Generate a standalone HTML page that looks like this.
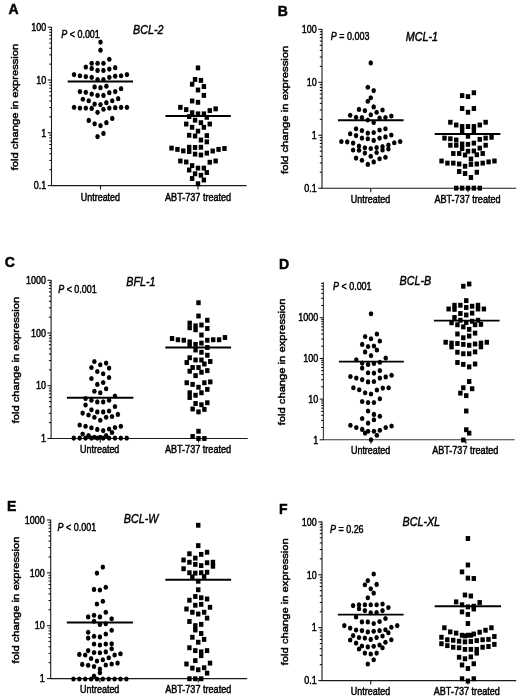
<!DOCTYPE html>
<html lang="en"><head><meta charset="utf-8"><title>Figure: fold change in expression</title>
<style>html,body{margin:0;padding:0;background:#fff}svg{display:block}text{font-family:"Liberation Sans", Arial, sans-serif;fill:#000;stroke:#000;stroke-width:0.45px}</style></head><body>
<svg width="520" height="700" viewBox="0 0 520 700">
<rect width="520" height="700" fill="#fff"/>
<g id="panel-A">
<path d="M51.5 26.9V185.6H246.6" fill="none" stroke="#1a1a1a" stroke-width="1.1"/>
<path d="M51.5 27.2h-3.7M51.5 64.11h-2.2M51.5 54.81h-2.2M51.5 48.21h-2.2M51.5 43.09h-2.2M51.5 38.91h-2.2M51.5 35.38h-2.2M51.5 32.32h-2.2M51.5 29.62h-2.2M51.5 80h-3.7M51.5 116.91h-2.2M51.5 107.61h-2.2M51.5 101.01h-2.2M51.5 95.89h-2.2M51.5 91.71h-2.2M51.5 88.18h-2.2M51.5 85.12h-2.2M51.5 82.42h-2.2M51.5 132.8h-3.7M51.5 169.71h-2.2M51.5 160.41h-2.2M51.5 153.81h-2.2M51.5 148.69h-2.2M51.5 144.51h-2.2M51.5 140.98h-2.2M51.5 137.92h-2.2M51.5 135.22h-2.2M51.5 185.6h-3.7" stroke="#000" stroke-width="1" fill="none"/>
<path d="M100.5 185.6v4M198 185.6v4" stroke="#1a1a1a" stroke-width="1.1" fill="none"/>
<text x="31.37" y="30.9" font-size="10.0" textLength="14.93" lengthAdjust="spacingAndGlyphs">100</text>
<text x="36.34" y="83.7" font-size="10.0" textLength="9.96" lengthAdjust="spacingAndGlyphs">10</text>
<text x="41.32" y="136.5" font-size="10.0" textLength="4.98" lengthAdjust="spacingAndGlyphs">1</text>
<text x="33.86" y="189.3" font-size="10.0" textLength="12.44" lengthAdjust="spacingAndGlyphs">0.1</text>
<text x="80.75" y="200.65" font-size="10.0" textLength="39.31" lengthAdjust="spacingAndGlyphs">Untreated</text>
<text x="165.04" y="200.65" font-size="10.0" textLength="66.13" lengthAdjust="spacingAndGlyphs">ABT-737 treated</text>
<text transform="translate(17.5 170.3) rotate(-90)" font-size="8.8" stroke-width="0.5" textLength="126.5" lengthAdjust="spacingAndGlyphs">fold change in expression</text>
<text x="8.6" y="14.1" font-size="14" font-weight="bold" stroke="#000" stroke-width="0.3">A</text>
<text x="133.1" y="33.75" font-size="12.2" font-style="italic" textLength="30.43" lengthAdjust="spacingAndGlyphs">BCL-2</text>
<text x="61.25" y="37.7" font-size="10.0" textLength="38.57" lengthAdjust="spacingAndGlyphs"><tspan font-style="italic">P</tspan> &lt; 0.001</text>
<g fill="#000"><ellipse cx="100.5" cy="42.12" rx="2.25" ry="2.6"/><ellipse cx="100.5" cy="50.19" rx="2.25" ry="2.6"/><ellipse cx="109.32" cy="59.23" rx="2.25" ry="2.6"/><ellipse cx="91.68" cy="63.27" rx="2.25" ry="2.6"/><ellipse cx="97.56" cy="63.27" rx="2.25" ry="2.6"/><ellipse cx="103.44" cy="63.27" rx="2.25" ry="2.6"/><ellipse cx="85.8" cy="67.12" rx="2.25" ry="2.6"/><ellipse cx="115.2" cy="67.69" rx="2.25" ry="2.6"/><ellipse cx="91.68" cy="68.46" rx="2.25" ry="2.6"/><ellipse cx="109.32" cy="69.04" rx="2.25" ry="2.6"/><ellipse cx="97.56" cy="70.38" rx="2.25" ry="2.6"/><ellipse cx="103.44" cy="70.38" rx="2.25" ry="2.6"/><ellipse cx="74.04" cy="74.62" rx="2.25" ry="2.6"/><ellipse cx="126.96" cy="74.62" rx="2.25" ry="2.6"/><ellipse cx="79.92" cy="75.77" rx="2.25" ry="2.6"/><ellipse cx="121.08" cy="75.77" rx="2.25" ry="2.6"/><ellipse cx="85.8" cy="76.54" rx="2.25" ry="2.6"/><ellipse cx="115.2" cy="76.15" rx="2.25" ry="2.6"/><ellipse cx="91.68" cy="77.31" rx="2.25" ry="2.6"/><ellipse cx="109.32" cy="77.31" rx="2.25" ry="2.6"/><ellipse cx="97.56" cy="79.62" rx="2.25" ry="2.6"/><ellipse cx="103.44" cy="79.62" rx="2.25" ry="2.6"/><ellipse cx="94.62" cy="86.92" rx="2.25" ry="2.6"/><ellipse cx="100.5" cy="87.69" rx="2.25" ry="2.6"/><ellipse cx="106.38" cy="86.15" rx="2.25" ry="2.6"/><ellipse cx="79.92" cy="91.54" rx="2.25" ry="2.6"/><ellipse cx="85.8" cy="92.31" rx="2.25" ry="2.6"/><ellipse cx="91.68" cy="94.04" rx="2.25" ry="2.6"/><ellipse cx="97.56" cy="95.38" rx="2.25" ry="2.6"/><ellipse cx="103.44" cy="95.38" rx="2.25" ry="2.6"/><ellipse cx="109.32" cy="92.69" rx="2.25" ry="2.6"/><ellipse cx="115.2" cy="91.54" rx="2.25" ry="2.6"/><ellipse cx="121.08" cy="88.65" rx="2.25" ry="2.6"/><ellipse cx="82.86" cy="99.23" rx="2.25" ry="2.6"/><ellipse cx="88.74" cy="100.77" rx="2.25" ry="2.6"/><ellipse cx="94.62" cy="104.04" rx="2.25" ry="2.6"/><ellipse cx="100.5" cy="104.62" rx="2.25" ry="2.6"/><ellipse cx="106.38" cy="102.69" rx="2.25" ry="2.6"/><ellipse cx="112.26" cy="100.77" rx="2.25" ry="2.6"/><ellipse cx="118.14" cy="98.65" rx="2.25" ry="2.6"/><ellipse cx="74.04" cy="107.31" rx="2.25" ry="2.6"/><ellipse cx="79.92" cy="108.08" rx="2.25" ry="2.6"/><ellipse cx="85.8" cy="108.08" rx="2.25" ry="2.6"/><ellipse cx="91.68" cy="108.46" rx="2.25" ry="2.6"/><ellipse cx="97.56" cy="112.31" rx="2.25" ry="2.6"/><ellipse cx="103.44" cy="109.23" rx="2.25" ry="2.6"/><ellipse cx="109.32" cy="108.08" rx="2.25" ry="2.6"/><ellipse cx="115.2" cy="107.69" rx="2.25" ry="2.6"/><ellipse cx="121.08" cy="107.31" rx="2.25" ry="2.6"/><ellipse cx="126.96" cy="107.31" rx="2.25" ry="2.6"/><ellipse cx="88.74" cy="120.38" rx="2.25" ry="2.6"/><ellipse cx="94.62" cy="123.85" rx="2.25" ry="2.6"/><ellipse cx="100.5" cy="125.58" rx="2.25" ry="2.6"/><ellipse cx="106.38" cy="122.69" rx="2.25" ry="2.6"/><ellipse cx="112.26" cy="118.46" rx="2.25" ry="2.6"/><ellipse cx="97.56" cy="136.54" rx="2.25" ry="2.6"/><ellipse cx="103.44" cy="133.46" rx="2.25" ry="2.6"/></g>
<path d="M67.7 81.5H133" stroke="#000" stroke-width="1.8" fill="none"/>
<g fill="#000"><rect x="195.8" y="65.43" width="4.4" height="4.9"/><rect x="192.86" y="76.97" width="4.4" height="4.9"/><rect x="198.74" y="77.93" width="4.4" height="4.9"/><rect x="189.92" y="81.78" width="4.4" height="4.9"/><rect x="201.68" y="84.09" width="4.4" height="4.9"/><rect x="195.8" y="87.55" width="4.4" height="4.9"/><rect x="201.68" y="92.93" width="4.4" height="4.9"/><rect x="189.92" y="98.51" width="4.4" height="4.9"/><rect x="195.8" y="99.86" width="4.4" height="4.9"/><rect x="178.16" y="104.86" width="4.4" height="4.9"/><rect x="184.04" y="107.17" width="4.4" height="4.9"/><rect x="207.56" y="108.13" width="4.4" height="4.9"/><rect x="213.44" y="106.4" width="4.4" height="4.9"/><rect x="189.92" y="110.24" width="4.4" height="4.9"/><rect x="195.8" y="111.4" width="4.4" height="4.9"/><rect x="201.68" y="111.4" width="4.4" height="4.9"/><rect x="186.98" y="114.09" width="4.4" height="4.9"/><rect x="204.62" y="114.86" width="4.4" height="4.9"/><rect x="192.86" y="117.74" width="4.4" height="4.9"/><rect x="198.74" y="120.24" width="4.4" height="4.9"/><rect x="184.04" y="121.59" width="4.4" height="4.9"/><rect x="207.56" y="121.59" width="4.4" height="4.9"/><rect x="189.92" y="124.86" width="4.4" height="4.9"/><rect x="201.68" y="124.86" width="4.4" height="4.9"/><rect x="195.8" y="128.7" width="4.4" height="4.9"/><rect x="186.98" y="132.8" width="4.4" height="4.9"/><rect x="192.86" y="133.55" width="4.4" height="4.9"/><rect x="204.62" y="133.17" width="4.4" height="4.9"/><rect x="198.74" y="137.55" width="4.4" height="4.9"/><rect x="204.62" y="139.43" width="4.4" height="4.9"/><rect x="169.34" y="145.67" width="4.4" height="4.9"/><rect x="175.22" y="146.93" width="4.4" height="4.9"/><rect x="181.1" y="148.43" width="4.4" height="4.9"/><rect x="186.98" y="144.8" width="4.4" height="4.9"/><rect x="186.98" y="149.05" width="4.4" height="4.9"/><rect x="192.86" y="145.05" width="4.4" height="4.9"/><rect x="198.74" y="144.8" width="4.4" height="4.9"/><rect x="192.86" y="151.67" width="4.4" height="4.9"/><rect x="198.74" y="152.55" width="4.4" height="4.9"/><rect x="204.62" y="150.67" width="4.4" height="4.9"/><rect x="210.5" y="148.55" width="4.4" height="4.9"/><rect x="216.38" y="146.93" width="4.4" height="4.9"/><rect x="222.26" y="146.05" width="4.4" height="4.9"/><rect x="178.16" y="158.55" width="4.4" height="4.9"/><rect x="184.04" y="159.55" width="4.4" height="4.9"/><rect x="207.56" y="159.8" width="4.4" height="4.9"/><rect x="213.44" y="158.55" width="4.4" height="4.9"/><rect x="189.92" y="163.17" width="4.4" height="4.9"/><rect x="195.8" y="165.67" width="4.4" height="4.9"/><rect x="201.68" y="165.67" width="4.4" height="4.9"/><rect x="186.98" y="167.55" width="4.4" height="4.9"/><rect x="204.62" y="170.05" width="4.4" height="4.9"/><rect x="192.86" y="171.3" width="4.4" height="4.9"/><rect x="198.74" y="172.8" width="4.4" height="4.9"/><rect x="189.92" y="176.05" width="4.4" height="4.9"/><rect x="201.68" y="177.55" width="4.4" height="4.9"/><rect x="195.8" y="181.3" width="4.4" height="4.9"/></g>
<path d="M165.4 116H230.8" stroke="#000" stroke-width="1.8" fill="none"/>
</g>
<g id="panel-B">
<path d="M322 29V188.2H516.2" fill="none" stroke="#1a1a1a" stroke-width="1.1"/>
<path d="M322 29.3h-3.7M322 66.32h-2.2M322 57h-2.2M322 50.38h-2.2M322 45.24h-2.2M322 41.05h-2.2M322 37.5h-2.2M322 34.43h-2.2M322 31.72h-2.2M322 82.27h-3.7M322 119.29h-2.2M322 109.96h-2.2M322 103.34h-2.2M322 98.21h-2.2M322 94.02h-2.2M322 90.47h-2.2M322 87.4h-2.2M322 84.69h-2.2M322 135.23h-3.7M322 172.26h-2.2M322 162.93h-2.2M322 156.31h-2.2M322 151.18h-2.2M322 146.98h-2.2M322 143.44h-2.2M322 140.37h-2.2M322 137.66h-2.2M322 188.2h-3.7" stroke="#000" stroke-width="1" fill="none"/>
<path d="M370.75 188.2v4M468 188.2v4" stroke="#1a1a1a" stroke-width="1.1" fill="none"/>
<text x="301.87" y="33" font-size="10.0" textLength="14.93" lengthAdjust="spacingAndGlyphs">100</text>
<text x="306.84" y="85.97" font-size="10.0" textLength="9.96" lengthAdjust="spacingAndGlyphs">10</text>
<text x="311.82" y="138.93" font-size="10.0" textLength="4.98" lengthAdjust="spacingAndGlyphs">1</text>
<text x="304.36" y="191.9" font-size="10.0" textLength="12.44" lengthAdjust="spacingAndGlyphs">0.1</text>
<text x="350.85" y="202.5" font-size="10.0" textLength="39.31" lengthAdjust="spacingAndGlyphs">Untreated</text>
<text x="434.44" y="202.5" font-size="10.0" textLength="66.13" lengthAdjust="spacingAndGlyphs">ABT-737 treated</text>
<text transform="translate(287.6 174) rotate(-90)" font-size="8.8" stroke-width="0.5" textLength="128.4" lengthAdjust="spacingAndGlyphs">fold change in expression</text>
<text x="277.8" y="15.6" font-size="14" font-weight="bold" stroke="#000" stroke-width="0.3">B</text>
<text x="405.8" y="40.7" font-size="12.2" font-style="italic" textLength="32.21" lengthAdjust="spacingAndGlyphs">MCL-1</text>
<text x="330.8" y="39.8" font-size="10.0" textLength="38.57" lengthAdjust="spacingAndGlyphs"><tspan font-style="italic">P</tspan> = 0.003</text>
<g fill="#000"><ellipse cx="370.75" cy="62.88" rx="2.25" ry="2.6"/><ellipse cx="367.81" cy="87.25" rx="2.25" ry="2.6"/><ellipse cx="373.69" cy="90.62" rx="2.25" ry="2.6"/><ellipse cx="370.75" cy="97.75" rx="2.25" ry="2.6"/><ellipse cx="367.81" cy="101.25" rx="2.25" ry="2.6"/><ellipse cx="373.69" cy="106.88" rx="2.25" ry="2.6"/><ellipse cx="358.99" cy="109.38" rx="2.25" ry="2.6"/><ellipse cx="364.87" cy="110.62" rx="2.25" ry="2.6"/><ellipse cx="382.51" cy="110" rx="2.25" ry="2.6"/><ellipse cx="376.63" cy="112.25" rx="2.25" ry="2.6"/><ellipse cx="370.75" cy="114.75" rx="2.25" ry="2.6"/><ellipse cx="350.17" cy="115.25" rx="2.25" ry="2.6"/><ellipse cx="356.05" cy="117.25" rx="2.25" ry="2.6"/><ellipse cx="361.93" cy="117.5" rx="2.25" ry="2.6"/><ellipse cx="367.81" cy="120" rx="2.25" ry="2.6"/><ellipse cx="373.69" cy="122.5" rx="2.25" ry="2.6"/><ellipse cx="379.57" cy="118.12" rx="2.25" ry="2.6"/><ellipse cx="385.45" cy="117.5" rx="2.25" ry="2.6"/><ellipse cx="391.33" cy="116" rx="2.25" ry="2.6"/><ellipse cx="356.05" cy="128.75" rx="2.25" ry="2.6"/><ellipse cx="361.93" cy="130.62" rx="2.25" ry="2.6"/><ellipse cx="367.81" cy="133.12" rx="2.25" ry="2.6"/><ellipse cx="373.69" cy="132.5" rx="2.25" ry="2.6"/><ellipse cx="379.57" cy="130" rx="2.25" ry="2.6"/><ellipse cx="385.45" cy="128.75" rx="2.25" ry="2.6"/><ellipse cx="350.17" cy="133.75" rx="2.25" ry="2.6"/><ellipse cx="356.05" cy="135.62" rx="2.25" ry="2.6"/><ellipse cx="361.93" cy="138.12" rx="2.25" ry="2.6"/><ellipse cx="367.81" cy="138.75" rx="2.25" ry="2.6"/><ellipse cx="373.69" cy="140.38" rx="2.25" ry="2.6"/><ellipse cx="379.57" cy="138.12" rx="2.25" ry="2.6"/><ellipse cx="385.45" cy="136.88" rx="2.25" ry="2.6"/><ellipse cx="391.33" cy="135" rx="2.25" ry="2.6"/><ellipse cx="341.35" cy="141.5" rx="2.25" ry="2.6"/><ellipse cx="347.23" cy="141.88" rx="2.25" ry="2.6"/><ellipse cx="353.11" cy="143.12" rx="2.25" ry="2.6"/><ellipse cx="358.99" cy="146" rx="2.25" ry="2.6"/><ellipse cx="364.87" cy="147.75" rx="2.25" ry="2.6"/><ellipse cx="370.75" cy="148.5" rx="2.25" ry="2.6"/><ellipse cx="376.63" cy="147.5" rx="2.25" ry="2.6"/><ellipse cx="382.51" cy="146.5" rx="2.25" ry="2.6"/><ellipse cx="388.39" cy="145" rx="2.25" ry="2.6"/><ellipse cx="394.27" cy="142.75" rx="2.25" ry="2.6"/><ellipse cx="400.15" cy="141.5" rx="2.25" ry="2.6"/><ellipse cx="353.11" cy="150" rx="2.25" ry="2.6"/><ellipse cx="358.99" cy="150.25" rx="2.25" ry="2.6"/><ellipse cx="364.87" cy="153.12" rx="2.25" ry="2.6"/><ellipse cx="376.63" cy="152.5" rx="2.25" ry="2.6"/><ellipse cx="382.51" cy="150" rx="2.25" ry="2.6"/><ellipse cx="388.39" cy="149" rx="2.25" ry="2.6"/><ellipse cx="370.75" cy="156.25" rx="2.25" ry="2.6"/><ellipse cx="356.05" cy="158.12" rx="2.25" ry="2.6"/><ellipse cx="361.93" cy="160.25" rx="2.25" ry="2.6"/><ellipse cx="367.81" cy="164.38" rx="2.25" ry="2.6"/><ellipse cx="373.69" cy="161.88" rx="2.25" ry="2.6"/><ellipse cx="379.57" cy="158.75" rx="2.25" ry="2.6"/><ellipse cx="385.45" cy="157.25" rx="2.25" ry="2.6"/></g>
<path d="M338 120.25H403.6" stroke="#000" stroke-width="1.8" fill="none"/>
<g fill="#000"><rect x="459.92" y="93.17" width="4.4" height="4.9"/><rect x="465.8" y="94.17" width="4.4" height="4.9"/><rect x="471.68" y="90.3" width="4.4" height="4.9"/><rect x="459.92" y="106.05" width="4.4" height="4.9"/><rect x="465.8" y="109.8" width="4.4" height="4.9"/><rect x="471.68" y="106.05" width="4.4" height="4.9"/><rect x="448.16" y="119.8" width="4.4" height="4.9"/><rect x="454.04" y="122.55" width="4.4" height="4.9"/><rect x="459.92" y="124.05" width="4.4" height="4.9"/><rect x="459.92" y="128.17" width="4.4" height="4.9"/><rect x="465.8" y="124.05" width="4.4" height="4.9"/><rect x="471.68" y="124.05" width="4.4" height="4.9"/><rect x="471.68" y="128.17" width="4.4" height="4.9"/><rect x="477.56" y="122.55" width="4.4" height="4.9"/><rect x="483.44" y="119.8" width="4.4" height="4.9"/><rect x="465.8" y="133.8" width="4.4" height="4.9"/><rect x="442.28" y="135.67" width="4.4" height="4.9"/><rect x="448.16" y="136.3" width="4.4" height="4.9"/><rect x="454.04" y="137.55" width="4.4" height="4.9"/><rect x="477.56" y="136.93" width="4.4" height="4.9"/><rect x="483.44" y="135.67" width="4.4" height="4.9"/><rect x="489.32" y="134.8" width="4.4" height="4.9"/><rect x="448.16" y="142.8" width="4.4" height="4.9"/><rect x="454.04" y="142.8" width="4.4" height="4.9"/><rect x="459.92" y="141.55" width="4.4" height="4.9"/><rect x="459.92" y="146.05" width="4.4" height="4.9"/><rect x="465.8" y="141.93" width="4.4" height="4.9"/><rect x="471.68" y="140.67" width="4.4" height="4.9"/><rect x="477.56" y="145.67" width="4.4" height="4.9"/><rect x="483.44" y="142.8" width="4.4" height="4.9"/><rect x="451.1" y="151.05" width="4.4" height="4.9"/><rect x="456.98" y="151.05" width="4.4" height="4.9"/><rect x="462.86" y="152.55" width="4.4" height="4.9"/><rect x="465.8" y="148.8" width="4.4" height="4.9"/><rect x="471.68" y="148.55" width="4.4" height="4.9"/><rect x="474.62" y="152.3" width="4.4" height="4.9"/><rect x="480.5" y="151.05" width="4.4" height="4.9"/><rect x="468.74" y="156.55" width="4.4" height="4.9"/><rect x="439.34" y="158.55" width="4.4" height="4.9"/><rect x="445.22" y="160.67" width="4.4" height="4.9"/><rect x="451.1" y="160.67" width="4.4" height="4.9"/><rect x="456.98" y="161.55" width="4.4" height="4.9"/><rect x="462.86" y="163.8" width="4.4" height="4.9"/><rect x="468.74" y="161.93" width="4.4" height="4.9"/><rect x="474.62" y="161.55" width="4.4" height="4.9"/><rect x="480.5" y="160.67" width="4.4" height="4.9"/><rect x="486.38" y="159.43" width="4.4" height="4.9"/><rect x="492.26" y="158.55" width="4.4" height="4.9"/><rect x="456.98" y="169.05" width="4.4" height="4.9"/><rect x="462.86" y="171.05" width="4.4" height="4.9"/><rect x="468.74" y="175.05" width="4.4" height="4.9"/><rect x="474.62" y="169.8" width="4.4" height="4.9"/><rect x="454.04" y="185.67" width="4.4" height="4.9"/><rect x="459.92" y="185.67" width="4.4" height="4.9"/><rect x="465.8" y="185.67" width="4.4" height="4.9"/><rect x="471.68" y="185.67" width="4.4" height="4.9"/><rect x="477.56" y="185.67" width="4.4" height="4.9"/></g>
<path d="M434.7 134H500.4" stroke="#000" stroke-width="1.8" fill="none"/>
</g>
<g id="panel-C">
<path d="M51.1 279.95V438.5H247.7" fill="none" stroke="#1a1a1a" stroke-width="1.1"/>
<path d="M51.1 280.25h-3.7M51.1 317.12h-2.2M51.1 307.83h-2.2M51.1 301.24h-2.2M51.1 296.13h-2.2M51.1 291.95h-2.2M51.1 288.42h-2.2M51.1 285.36h-2.2M51.1 282.66h-2.2M51.1 333h-3.7M51.1 369.87h-2.2M51.1 360.58h-2.2M51.1 353.99h-2.2M51.1 348.88h-2.2M51.1 344.7h-2.2M51.1 341.17h-2.2M51.1 338.11h-2.2M51.1 335.41h-2.2M51.1 385.75h-3.7M51.1 422.62h-2.2M51.1 413.33h-2.2M51.1 406.74h-2.2M51.1 401.63h-2.2M51.1 397.45h-2.2M51.1 393.92h-2.2M51.1 390.86h-2.2M51.1 388.16h-2.2M51.1 438.5h-3.7" stroke="#000" stroke-width="1" fill="none"/>
<path d="M100.25 438.5v4M198.5 438.5v4" stroke="#1a1a1a" stroke-width="1.1" fill="none"/>
<text x="25.99" y="283.95" font-size="10.0" textLength="19.91" lengthAdjust="spacingAndGlyphs">1000</text>
<text x="30.97" y="336.7" font-size="10.0" textLength="14.93" lengthAdjust="spacingAndGlyphs">100</text>
<text x="35.94" y="389.45" font-size="10.0" textLength="9.96" lengthAdjust="spacingAndGlyphs">10</text>
<text x="40.92" y="442.2" font-size="10.0" textLength="4.98" lengthAdjust="spacingAndGlyphs">1</text>
<text x="80.05" y="453" font-size="10.0" textLength="39.31" lengthAdjust="spacingAndGlyphs">Untreated</text>
<text x="164.94" y="453" font-size="10.0" textLength="66.13" lengthAdjust="spacingAndGlyphs">ABT-737 treated</text>
<text transform="translate(19 423.3) rotate(-90)" font-size="8.8" stroke-width="0.5" textLength="126.5" lengthAdjust="spacingAndGlyphs">fold change in expression</text>
<text x="4.7" y="266.9" font-size="14" font-weight="bold" stroke="#000" stroke-width="0.3">C</text>
<text x="126.25" y="285.5" font-size="12.2" font-style="italic" textLength="29.24" lengthAdjust="spacingAndGlyphs">BFL-1</text>
<text x="58.2" y="292.5" font-size="10.0" textLength="38.57" lengthAdjust="spacingAndGlyphs"><tspan font-style="italic">P</tspan> &lt; 0.001</text>
<g fill="#000"><ellipse cx="94.37" cy="361.5" rx="2.25" ry="2.6"/><ellipse cx="100.25" cy="364.75" rx="2.25" ry="2.6"/><ellipse cx="106.13" cy="363.12" rx="2.25" ry="2.6"/><ellipse cx="91.43" cy="367.5" rx="2.25" ry="2.6"/><ellipse cx="109.07" cy="368.12" rx="2.25" ry="2.6"/><ellipse cx="97.31" cy="371.5" rx="2.25" ry="2.6"/><ellipse cx="103.19" cy="373.75" rx="2.25" ry="2.6"/><ellipse cx="91.43" cy="378.5" rx="2.25" ry="2.6"/><ellipse cx="109.07" cy="377.5" rx="2.25" ry="2.6"/><ellipse cx="103.19" cy="382.5" rx="2.25" ry="2.6"/><ellipse cx="97.31" cy="384.38" rx="2.25" ry="2.6"/><ellipse cx="106.13" cy="388.75" rx="2.25" ry="2.6"/><ellipse cx="94.37" cy="391.25" rx="2.25" ry="2.6"/><ellipse cx="100.25" cy="392.75" rx="2.25" ry="2.6"/><ellipse cx="114.95" cy="396" rx="2.25" ry="2.6"/><ellipse cx="85.55" cy="398.5" rx="2.25" ry="2.6"/><ellipse cx="91.43" cy="400.25" rx="2.25" ry="2.6"/><ellipse cx="97.31" cy="401.88" rx="2.25" ry="2.6"/><ellipse cx="103.19" cy="401.88" rx="2.25" ry="2.6"/><ellipse cx="109.07" cy="400.25" rx="2.25" ry="2.6"/><ellipse cx="85.55" cy="405" rx="2.25" ry="2.6"/><ellipse cx="114.95" cy="406.5" rx="2.25" ry="2.6"/><ellipse cx="91.43" cy="409.75" rx="2.25" ry="2.6"/><ellipse cx="97.31" cy="411.88" rx="2.25" ry="2.6"/><ellipse cx="103.19" cy="411.88" rx="2.25" ry="2.6"/><ellipse cx="109.07" cy="411" rx="2.25" ry="2.6"/><ellipse cx="82.61" cy="413.12" rx="2.25" ry="2.6"/><ellipse cx="88.49" cy="415" rx="2.25" ry="2.6"/><ellipse cx="94.37" cy="417.25" rx="2.25" ry="2.6"/><ellipse cx="100.25" cy="420.25" rx="2.25" ry="2.6"/><ellipse cx="106.13" cy="417.25" rx="2.25" ry="2.6"/><ellipse cx="112.01" cy="416.5" rx="2.25" ry="2.6"/><ellipse cx="117.89" cy="414.38" rx="2.25" ry="2.6"/><ellipse cx="79.67" cy="425" rx="2.25" ry="2.6"/><ellipse cx="85.55" cy="426.25" rx="2.25" ry="2.6"/><ellipse cx="91.43" cy="427.75" rx="2.25" ry="2.6"/><ellipse cx="97.31" cy="429.38" rx="2.25" ry="2.6"/><ellipse cx="103.19" cy="430.62" rx="2.25" ry="2.6"/><ellipse cx="109.07" cy="429" rx="2.25" ry="2.6"/><ellipse cx="114.95" cy="427.5" rx="2.25" ry="2.6"/><ellipse cx="120.83" cy="426.25" rx="2.25" ry="2.6"/><ellipse cx="82.61" cy="434" rx="2.25" ry="2.6"/><ellipse cx="88.49" cy="435.62" rx="2.25" ry="2.6"/><ellipse cx="112.01" cy="432.5" rx="2.25" ry="2.6"/><ellipse cx="106.13" cy="435.62" rx="2.25" ry="2.6"/><ellipse cx="73.79" cy="438.12" rx="2.25" ry="2.6"/><ellipse cx="79.67" cy="438.12" rx="2.25" ry="2.6"/><ellipse cx="85.55" cy="438.12" rx="2.25" ry="2.6"/><ellipse cx="91.43" cy="438.12" rx="2.25" ry="2.6"/><ellipse cx="97.31" cy="438.12" rx="2.25" ry="2.6"/><ellipse cx="103.19" cy="438.12" rx="2.25" ry="2.6"/><ellipse cx="109.07" cy="438.12" rx="2.25" ry="2.6"/><ellipse cx="114.95" cy="438.12" rx="2.25" ry="2.6"/><ellipse cx="120.83" cy="438.12" rx="2.25" ry="2.6"/><ellipse cx="126.71" cy="438.12" rx="2.25" ry="2.6"/><ellipse cx="94.37" cy="437.25" rx="2.25" ry="2.6"/><ellipse cx="100.25" cy="437.25" rx="2.25" ry="2.6"/></g>
<path d="M66.9 397.75H133.4" stroke="#000" stroke-width="1.8" fill="none"/>
<g fill="#000"><rect x="196.3" y="300.3" width="4.4" height="4.9"/><rect x="196.3" y="313.55" width="4.4" height="4.9"/><rect x="205.12" y="317.8" width="4.4" height="4.9"/><rect x="187.48" y="320.67" width="4.4" height="4.9"/><rect x="187.48" y="325.3" width="4.4" height="4.9"/><rect x="193.36" y="323.43" width="4.4" height="4.9"/><rect x="193.36" y="327.3" width="4.4" height="4.9"/><rect x="199.24" y="322.55" width="4.4" height="4.9"/><rect x="205.12" y="326.05" width="4.4" height="4.9"/><rect x="199.24" y="332.55" width="4.4" height="4.9"/><rect x="169.84" y="336.05" width="4.4" height="4.9"/><rect x="175.72" y="337.3" width="4.4" height="4.9"/><rect x="181.6" y="337.8" width="4.4" height="4.9"/><rect x="205.12" y="337.8" width="4.4" height="4.9"/><rect x="211" y="337.3" width="4.4" height="4.9"/><rect x="216.88" y="337.3" width="4.4" height="4.9"/><rect x="222.76" y="335.05" width="4.4" height="4.9"/><rect x="187.48" y="339.43" width="4.4" height="4.9"/><rect x="187.48" y="343.17" width="4.4" height="4.9"/><rect x="193.36" y="341.93" width="4.4" height="4.9"/><rect x="193.36" y="347.55" width="4.4" height="4.9"/><rect x="199.24" y="340.67" width="4.4" height="4.9"/><rect x="205.12" y="345.05" width="4.4" height="4.9"/><rect x="199.24" y="349.8" width="4.4" height="4.9"/><rect x="205.12" y="352.8" width="4.4" height="4.9"/><rect x="187.48" y="355.3" width="4.4" height="4.9"/><rect x="193.36" y="357.55" width="4.4" height="4.9"/><rect x="199.24" y="357.55" width="4.4" height="4.9"/><rect x="184.54" y="360.05" width="4.4" height="4.9"/><rect x="208.06" y="359.05" width="4.4" height="4.9"/><rect x="202.18" y="361.55" width="4.4" height="4.9"/><rect x="190.42" y="365.05" width="4.4" height="4.9"/><rect x="196.3" y="365.05" width="4.4" height="4.9"/><rect x="187.48" y="368.8" width="4.4" height="4.9"/><rect x="199.24" y="369.8" width="4.4" height="4.9"/><rect x="205.12" y="368.17" width="4.4" height="4.9"/><rect x="193.36" y="373.17" width="4.4" height="4.9"/><rect x="184.54" y="380.3" width="4.4" height="4.9"/><rect x="190.42" y="381.93" width="4.4" height="4.9"/><rect x="202.18" y="380.3" width="4.4" height="4.9"/><rect x="208.06" y="379.43" width="4.4" height="4.9"/><rect x="196.3" y="384.8" width="4.4" height="4.9"/><rect x="205.12" y="386.93" width="4.4" height="4.9"/><rect x="187.48" y="390.3" width="4.4" height="4.9"/><rect x="187.48" y="395.05" width="4.4" height="4.9"/><rect x="199.24" y="390.3" width="4.4" height="4.9"/><rect x="193.36" y="392.8" width="4.4" height="4.9"/><rect x="193.36" y="401.05" width="4.4" height="4.9"/><rect x="199.24" y="402.3" width="4.4" height="4.9"/><rect x="205.12" y="400.3" width="4.4" height="4.9"/><rect x="190.42" y="406.55" width="4.4" height="4.9"/><rect x="202.18" y="406.93" width="4.4" height="4.9"/><rect x="196.3" y="409.43" width="4.4" height="4.9"/><rect x="196.3" y="428.8" width="4.4" height="4.9"/><rect x="190.42" y="434.05" width="4.4" height="4.9"/><rect x="196.3" y="436.05" width="4.4" height="4.9"/><rect x="202.18" y="436.05" width="4.4" height="4.9"/></g>
<path d="M165.3 347.5H231.1" stroke="#000" stroke-width="1.8" fill="none"/>
</g>
<g id="panel-D">
<path d="M323.4 282.34V439.8H514.6" fill="none" stroke="#3a3a3a" stroke-width="1.1"/>
<path d="M323.4 317.75h-3.7M323.4 346.19h-2.2M323.4 339.02h-2.2M323.4 333.94h-2.2M323.4 330h-2.2M323.4 326.78h-2.2M323.4 324.05h-2.2M323.4 321.69h-2.2M323.4 319.61h-2.2M323.4 358.43h-3.7M323.4 386.87h-2.2M323.4 379.71h-2.2M323.4 374.62h-2.2M323.4 370.68h-2.2M323.4 367.46h-2.2M323.4 364.74h-2.2M323.4 362.38h-2.2M323.4 360.29h-2.2M323.4 399.12h-3.7M323.4 427.55h-2.2M323.4 420.39h-2.2M323.4 415.31h-2.2M323.4 411.36h-2.2M323.4 408.14h-2.2M323.4 405.42h-2.2M323.4 403.06h-2.2M323.4 400.98h-2.2M323.4 439.8h-3.7M323.4 305.5h-2.2M323.4 298.34h-2.2M323.4 293.26h-2.2M323.4 289.31h-2.2M323.4 286.09h-2.2M323.4 283.37h-2.2" stroke="#000" stroke-width="1" fill="none"/>
<path d="M371 439.8v4M465.8 439.8v4" stroke="#1a1a1a" stroke-width="1.1" fill="none"/>
<text x="298.29" y="321.45" font-size="10.0" textLength="19.91" lengthAdjust="spacingAndGlyphs">1000</text>
<text x="303.27" y="362.13" font-size="10.0" textLength="14.93" lengthAdjust="spacingAndGlyphs">100</text>
<text x="308.24" y="402.82" font-size="10.0" textLength="9.96" lengthAdjust="spacingAndGlyphs">10</text>
<text x="313.22" y="443.5" font-size="10.0" textLength="4.98" lengthAdjust="spacingAndGlyphs">1</text>
<text x="350.95" y="454.2" font-size="10.0" textLength="39.31" lengthAdjust="spacingAndGlyphs">Untreated</text>
<text x="432.14" y="454.2" font-size="10.0" textLength="66.13" lengthAdjust="spacingAndGlyphs">ABT-737 treated</text>
<text transform="translate(285 425.3) rotate(-90)" font-size="8.8" stroke-width="0.5" textLength="126.8" lengthAdjust="spacingAndGlyphs">fold change in expression</text>
<text x="278.9" y="269.4" font-size="14" font-weight="bold" stroke="#000" stroke-width="0.3">D</text>
<text x="399.5" y="284.5" font-size="12.2" font-style="italic" textLength="31.62" lengthAdjust="spacingAndGlyphs">BCL-B</text>
<text x="333" y="290.4" font-size="10.0" textLength="38.57" lengthAdjust="spacingAndGlyphs"><tspan font-style="italic">P</tspan> &lt; 0.001</text>
<g fill="#000"><ellipse cx="371" cy="313.75" rx="2.25" ry="2.6"/><ellipse cx="376.88" cy="334" rx="2.25" ry="2.6"/><ellipse cx="365.12" cy="336.5" rx="2.25" ry="2.6"/><ellipse cx="371" cy="338.75" rx="2.25" ry="2.6"/><ellipse cx="379.82" cy="341" rx="2.25" ry="2.6"/><ellipse cx="362.18" cy="344.38" rx="2.25" ry="2.6"/><ellipse cx="368.06" cy="346.5" rx="2.25" ry="2.6"/><ellipse cx="373.94" cy="346" rx="2.25" ry="2.6"/><ellipse cx="376.88" cy="350" rx="2.25" ry="2.6"/><ellipse cx="365.12" cy="351.88" rx="2.25" ry="2.6"/><ellipse cx="371" cy="355.62" rx="2.25" ry="2.6"/><ellipse cx="385.7" cy="358.12" rx="2.25" ry="2.6"/><ellipse cx="356.3" cy="359.75" rx="2.25" ry="2.6"/><ellipse cx="362.18" cy="363.12" rx="2.25" ry="2.6"/><ellipse cx="368.06" cy="364.38" rx="2.25" ry="2.6"/><ellipse cx="373.94" cy="363.5" rx="2.25" ry="2.6"/><ellipse cx="379.82" cy="362.25" rx="2.25" ry="2.6"/><ellipse cx="362.18" cy="368.12" rx="2.25" ry="2.6"/><ellipse cx="379.82" cy="370.62" rx="2.25" ry="2.6"/><ellipse cx="368.06" cy="372.75" rx="2.25" ry="2.6"/><ellipse cx="373.94" cy="373.12" rx="2.25" ry="2.6"/><ellipse cx="350.42" cy="376.5" rx="2.25" ry="2.6"/><ellipse cx="356.3" cy="378.12" rx="2.25" ry="2.6"/><ellipse cx="362.18" cy="379.62" rx="2.25" ry="2.6"/><ellipse cx="368.06" cy="381.88" rx="2.25" ry="2.6"/><ellipse cx="373.94" cy="381.5" rx="2.25" ry="2.6"/><ellipse cx="379.82" cy="378.12" rx="2.25" ry="2.6"/><ellipse cx="385.7" cy="376.88" rx="2.25" ry="2.6"/><ellipse cx="391.58" cy="375.25" rx="2.25" ry="2.6"/><ellipse cx="353.36" cy="387.75" rx="2.25" ry="2.6"/><ellipse cx="359.24" cy="389.75" rx="2.25" ry="2.6"/><ellipse cx="365.12" cy="392.75" rx="2.25" ry="2.6"/><ellipse cx="371" cy="394" rx="2.25" ry="2.6"/><ellipse cx="376.88" cy="390" rx="2.25" ry="2.6"/><ellipse cx="382.76" cy="388.12" rx="2.25" ry="2.6"/><ellipse cx="388.64" cy="387.75" rx="2.25" ry="2.6"/><ellipse cx="379.82" cy="398.75" rx="2.25" ry="2.6"/><ellipse cx="362.18" cy="401.5" rx="2.25" ry="2.6"/><ellipse cx="368.06" cy="402.5" rx="2.25" ry="2.6"/><ellipse cx="373.94" cy="402.5" rx="2.25" ry="2.6"/><ellipse cx="368.06" cy="411" rx="2.25" ry="2.6"/><ellipse cx="373.94" cy="414.38" rx="2.25" ry="2.6"/><ellipse cx="379.82" cy="416.25" rx="2.25" ry="2.6"/><ellipse cx="362.18" cy="418.5" rx="2.25" ry="2.6"/><ellipse cx="373.94" cy="419.75" rx="2.25" ry="2.6"/><ellipse cx="368.06" cy="423.12" rx="2.25" ry="2.6"/><ellipse cx="350.42" cy="425.25" rx="2.25" ry="2.6"/><ellipse cx="356.3" cy="427.5" rx="2.25" ry="2.6"/><ellipse cx="362.18" cy="429.38" rx="2.25" ry="2.6"/><ellipse cx="368.06" cy="431.25" rx="2.25" ry="2.6"/><ellipse cx="365.12" cy="433.12" rx="2.25" ry="2.6"/><ellipse cx="373.94" cy="431.25" rx="2.25" ry="2.6"/><ellipse cx="376.88" cy="435.25" rx="2.25" ry="2.6"/><ellipse cx="379.82" cy="430.25" rx="2.25" ry="2.6"/><ellipse cx="385.7" cy="427.5" rx="2.25" ry="2.6"/><ellipse cx="391.58" cy="426" rx="2.25" ry="2.6"/><ellipse cx="371" cy="439.75" rx="2.25" ry="2.6"/></g>
<path d="M338.9 361.6H403.8" stroke="#000" stroke-width="1.8" fill="none"/>
<g fill="#000"><rect x="461.11" y="283.8" width="4.4" height="4.9"/><rect x="466.99" y="281.55" width="4.4" height="4.9"/><rect x="464.05" y="298.17" width="4.4" height="4.9"/><rect x="446.41" y="306.55" width="4.4" height="4.9"/><rect x="452.29" y="302.8" width="4.4" height="4.9"/><rect x="452.29" y="306.93" width="4.4" height="4.9"/><rect x="458.17" y="302.8" width="4.4" height="4.9"/><rect x="464.05" y="305.05" width="4.4" height="4.9"/><rect x="469.93" y="303.8" width="4.4" height="4.9"/><rect x="475.81" y="302.8" width="4.4" height="4.9"/><rect x="475.81" y="306.55" width="4.4" height="4.9"/><rect x="481.69" y="306.55" width="4.4" height="4.9"/><rect x="458.17" y="311.05" width="4.4" height="4.9"/><rect x="464.05" y="312.55" width="4.4" height="4.9"/><rect x="469.93" y="310.67" width="4.4" height="4.9"/><rect x="452.29" y="315.05" width="4.4" height="4.9"/><rect x="458.17" y="317.8" width="4.4" height="4.9"/><rect x="475.81" y="317.8" width="4.4" height="4.9"/><rect x="469.93" y="318.8" width="4.4" height="4.9"/><rect x="464.05" y="320.05" width="4.4" height="4.9"/><rect x="449.35" y="320.3" width="4.4" height="4.9"/><rect x="455.23" y="322.3" width="4.4" height="4.9"/><rect x="472.87" y="322.3" width="4.4" height="4.9"/><rect x="478.75" y="321.93" width="4.4" height="4.9"/><rect x="461.11" y="324.43" width="4.4" height="4.9"/><rect x="466.99" y="326.93" width="4.4" height="4.9"/><rect x="455.23" y="331.55" width="4.4" height="4.9"/><rect x="472.87" y="330.67" width="4.4" height="4.9"/><rect x="466.99" y="333.55" width="4.4" height="4.9"/><rect x="461.11" y="335.3" width="4.4" height="4.9"/><rect x="443.47" y="339.8" width="4.4" height="4.9"/><rect x="449.35" y="340.67" width="4.4" height="4.9"/><rect x="449.35" y="344.43" width="4.4" height="4.9"/><rect x="455.23" y="341.05" width="4.4" height="4.9"/><rect x="461.11" y="341.93" width="4.4" height="4.9"/><rect x="466.99" y="342.8" width="4.4" height="4.9"/><rect x="472.87" y="341.55" width="4.4" height="4.9"/><rect x="478.75" y="340.67" width="4.4" height="4.9"/><rect x="478.75" y="344.43" width="4.4" height="4.9"/><rect x="484.63" y="339.8" width="4.4" height="4.9"/><rect x="455.23" y="349.8" width="4.4" height="4.9"/><rect x="461.11" y="351.3" width="4.4" height="4.9"/><rect x="466.99" y="351.3" width="4.4" height="4.9"/><rect x="472.87" y="349.43" width="4.4" height="4.9"/><rect x="455.23" y="360.05" width="4.4" height="4.9"/><rect x="461.11" y="361.93" width="4.4" height="4.9"/><rect x="466.99" y="364.43" width="4.4" height="4.9"/><rect x="472.87" y="361.55" width="4.4" height="4.9"/><rect x="466.99" y="379.05" width="4.4" height="4.9"/><rect x="461.11" y="385.3" width="4.4" height="4.9"/><rect x="469.93" y="386.3" width="4.4" height="4.9"/><rect x="458.17" y="390.67" width="4.4" height="4.9"/><rect x="464.05" y="393.17" width="4.4" height="4.9"/><rect x="464.05" y="408.55" width="4.4" height="4.9"/><rect x="464.05" y="427.3" width="4.4" height="4.9"/><rect x="466.99" y="430.67" width="4.4" height="4.9"/><rect x="461.11" y="437.55" width="4.4" height="4.9"/></g>
<path d="M433.9 320.6H499.6" stroke="#000" stroke-width="1.8" fill="none"/>
</g>
<g id="panel-E">
<path d="M50.7 519.7V678.6H247.2" fill="none" stroke="#1a1a1a" stroke-width="1.1"/>
<path d="M50.7 520h-3.7M50.7 556.95h-2.2M50.7 547.64h-2.2M50.7 541.04h-2.2M50.7 535.91h-2.2M50.7 531.73h-2.2M50.7 528.19h-2.2M50.7 525.12h-2.2M50.7 522.42h-2.2M50.7 572.87h-3.7M50.7 609.82h-2.2M50.7 600.51h-2.2M50.7 593.9h-2.2M50.7 588.78h-2.2M50.7 584.6h-2.2M50.7 581.06h-2.2M50.7 577.99h-2.2M50.7 575.29h-2.2M50.7 625.73h-3.7M50.7 662.69h-2.2M50.7 653.38h-2.2M50.7 646.77h-2.2M50.7 641.65h-2.2M50.7 637.46h-2.2M50.7 633.92h-2.2M50.7 630.86h-2.2M50.7 628.15h-2.2M50.7 678.6h-3.7" stroke="#000" stroke-width="1" fill="none"/>
<path d="M99.9 678.6v4M198.25 678.6v4" stroke="#1a1a1a" stroke-width="1.1" fill="none"/>
<text x="24.79" y="523.7" font-size="10.0" textLength="19.91" lengthAdjust="spacingAndGlyphs">1000</text>
<text x="29.77" y="576.57" font-size="10.0" textLength="14.93" lengthAdjust="spacingAndGlyphs">100</text>
<text x="34.74" y="629.43" font-size="10.0" textLength="9.96" lengthAdjust="spacingAndGlyphs">10</text>
<text x="39.72" y="682.3" font-size="10.0" textLength="4.98" lengthAdjust="spacingAndGlyphs">1</text>
<text x="80.05" y="693.4" font-size="10.0" textLength="39.31" lengthAdjust="spacingAndGlyphs">Untreated</text>
<text x="165.14" y="693.4" font-size="10.0" textLength="66.13" lengthAdjust="spacingAndGlyphs">ABT-737 treated</text>
<text transform="translate(18.5 663.4) rotate(-90)" font-size="8.8" stroke-width="0.5" textLength="126.9" lengthAdjust="spacingAndGlyphs">fold change in expression</text>
<text x="7.1" y="510.6" font-size="14" font-weight="bold" stroke="#000" stroke-width="0.3">E</text>
<text x="123.75" y="523" font-size="12.2" font-style="italic" textLength="34.59" lengthAdjust="spacingAndGlyphs">BCL-W</text>
<text x="57.6" y="530.8" font-size="10.0" textLength="38.57" lengthAdjust="spacingAndGlyphs"><tspan font-style="italic">P</tspan> &lt; 0.001</text>
<g fill="#000"><ellipse cx="102.84" cy="567.12" rx="2.25" ry="2.6"/><ellipse cx="96.96" cy="573.12" rx="2.25" ry="2.6"/><ellipse cx="105.78" cy="587.25" rx="2.25" ry="2.6"/><ellipse cx="94.02" cy="589.38" rx="2.25" ry="2.6"/><ellipse cx="99.9" cy="590" rx="2.25" ry="2.6"/><ellipse cx="102.84" cy="601.25" rx="2.25" ry="2.6"/><ellipse cx="96.96" cy="604" rx="2.25" ry="2.6"/><ellipse cx="105.78" cy="612.25" rx="2.25" ry="2.6"/><ellipse cx="94.02" cy="615.25" rx="2.25" ry="2.6"/><ellipse cx="88.14" cy="616.88" rx="2.25" ry="2.6"/><ellipse cx="99.9" cy="616.88" rx="2.25" ry="2.6"/><ellipse cx="111.66" cy="618.75" rx="2.25" ry="2.6"/><ellipse cx="94.02" cy="621.25" rx="2.25" ry="2.6"/><ellipse cx="99.9" cy="624.38" rx="2.25" ry="2.6"/><ellipse cx="105.78" cy="623.75" rx="2.25" ry="2.6"/><ellipse cx="111.66" cy="630.25" rx="2.25" ry="2.6"/><ellipse cx="88.14" cy="632.25" rx="2.25" ry="2.6"/><ellipse cx="105.78" cy="634" rx="2.25" ry="2.6"/><ellipse cx="94.02" cy="636.25" rx="2.25" ry="2.6"/><ellipse cx="99.9" cy="636.88" rx="2.25" ry="2.6"/><ellipse cx="88.14" cy="638.12" rx="2.25" ry="2.6"/><ellipse cx="94.02" cy="644" rx="2.25" ry="2.6"/><ellipse cx="99.9" cy="645" rx="2.25" ry="2.6"/><ellipse cx="105.78" cy="644" rx="2.25" ry="2.6"/><ellipse cx="111.66" cy="643.75" rx="2.25" ry="2.6"/><ellipse cx="111.66" cy="648.75" rx="2.25" ry="2.6"/><ellipse cx="88.14" cy="650.62" rx="2.25" ry="2.6"/><ellipse cx="94.02" cy="652.5" rx="2.25" ry="2.6"/><ellipse cx="99.9" cy="652.75" rx="2.25" ry="2.6"/><ellipse cx="105.78" cy="651.88" rx="2.25" ry="2.6"/><ellipse cx="79.32" cy="654.38" rx="2.25" ry="2.6"/><ellipse cx="85.2" cy="655" rx="2.25" ry="2.6"/><ellipse cx="114.6" cy="655" rx="2.25" ry="2.6"/><ellipse cx="120.48" cy="653.75" rx="2.25" ry="2.6"/><ellipse cx="91.08" cy="658.5" rx="2.25" ry="2.6"/><ellipse cx="96.96" cy="661" rx="2.25" ry="2.6"/><ellipse cx="102.84" cy="659.75" rx="2.25" ry="2.6"/><ellipse cx="108.72" cy="657.75" rx="2.25" ry="2.6"/><ellipse cx="82.26" cy="664.38" rx="2.25" ry="2.6"/><ellipse cx="88.14" cy="665.25" rx="2.25" ry="2.6"/><ellipse cx="94.02" cy="666.5" rx="2.25" ry="2.6"/><ellipse cx="105.78" cy="665" rx="2.25" ry="2.6"/><ellipse cx="111.66" cy="664" rx="2.25" ry="2.6"/><ellipse cx="117.54" cy="663.12" rx="2.25" ry="2.6"/><ellipse cx="99.9" cy="669" rx="2.25" ry="2.6"/><ellipse cx="99.9" cy="672.75" rx="2.25" ry="2.6"/><ellipse cx="94.02" cy="676" rx="2.25" ry="2.6"/><ellipse cx="73.44" cy="679" rx="2.25" ry="2.6"/><ellipse cx="79.32" cy="679" rx="2.25" ry="2.6"/><ellipse cx="85.2" cy="679" rx="2.25" ry="2.6"/><ellipse cx="91.08" cy="679" rx="2.25" ry="2.6"/><ellipse cx="96.96" cy="679" rx="2.25" ry="2.6"/><ellipse cx="102.84" cy="679" rx="2.25" ry="2.6"/><ellipse cx="108.72" cy="679" rx="2.25" ry="2.6"/><ellipse cx="114.6" cy="679" rx="2.25" ry="2.6"/><ellipse cx="120.48" cy="679" rx="2.25" ry="2.6"/><ellipse cx="126.36" cy="679" rx="2.25" ry="2.6"/></g>
<path d="M66.8 622.5H132.9" stroke="#000" stroke-width="1.8" fill="none"/>
<g fill="#000"><rect x="196.05" y="522.8" width="4.4" height="4.9"/><rect x="196.05" y="543.17" width="4.4" height="4.9"/><rect x="204.87" y="549.8" width="4.4" height="4.9"/><rect x="187.23" y="551.3" width="4.4" height="4.9"/><rect x="198.99" y="551.93" width="4.4" height="4.9"/><rect x="193.11" y="555.67" width="4.4" height="4.9"/><rect x="181.35" y="557.55" width="4.4" height="4.9"/><rect x="187.23" y="559.8" width="4.4" height="4.9"/><rect x="204.87" y="560.3" width="4.4" height="4.9"/><rect x="210.75" y="559.8" width="4.4" height="4.9"/><rect x="210.75" y="563.8" width="4.4" height="4.9"/><rect x="193.11" y="561.93" width="4.4" height="4.9"/><rect x="198.99" y="563.17" width="4.4" height="4.9"/><rect x="181.35" y="566.3" width="4.4" height="4.9"/><rect x="187.23" y="570.3" width="4.4" height="4.9"/><rect x="193.11" y="570.67" width="4.4" height="4.9"/><rect x="198.99" y="570.3" width="4.4" height="4.9"/><rect x="204.87" y="569.8" width="4.4" height="4.9"/><rect x="190.17" y="574.43" width="4.4" height="4.9"/><rect x="201.93" y="574.05" width="4.4" height="4.9"/><rect x="196.05" y="578.8" width="4.4" height="4.9"/><rect x="196.05" y="587.3" width="4.4" height="4.9"/><rect x="193.11" y="594.05" width="4.4" height="4.9"/><rect x="198.99" y="595.3" width="4.4" height="4.9"/><rect x="187.23" y="597.8" width="4.4" height="4.9"/><rect x="204.87" y="596.55" width="4.4" height="4.9"/><rect x="193.11" y="602.8" width="4.4" height="4.9"/><rect x="198.99" y="601.93" width="4.4" height="4.9"/><rect x="184.29" y="606.55" width="4.4" height="4.9"/><rect x="207.81" y="604.8" width="4.4" height="4.9"/><rect x="190.17" y="609.8" width="4.4" height="4.9"/><rect x="196.05" y="611.55" width="4.4" height="4.9"/><rect x="201.93" y="609.8" width="4.4" height="4.9"/><rect x="204.87" y="615.67" width="4.4" height="4.9"/><rect x="187.23" y="619.05" width="4.4" height="4.9"/><rect x="193.11" y="623.17" width="4.4" height="4.9"/><rect x="193.11" y="627.55" width="4.4" height="4.9"/><rect x="198.99" y="621.93" width="4.4" height="4.9"/><rect x="198.99" y="631.05" width="4.4" height="4.9"/><rect x="190.17" y="634.8" width="4.4" height="4.9"/><rect x="201.93" y="636.93" width="4.4" height="4.9"/><rect x="196.05" y="639.8" width="4.4" height="4.9"/><rect x="187.23" y="645.3" width="4.4" height="4.9"/><rect x="193.11" y="648.17" width="4.4" height="4.9"/><rect x="204.87" y="648.17" width="4.4" height="4.9"/><rect x="198.99" y="649.43" width="4.4" height="4.9"/><rect x="198.99" y="653.17" width="4.4" height="4.9"/><rect x="193.11" y="658.17" width="4.4" height="4.9"/><rect x="184.29" y="661.55" width="4.4" height="4.9"/><rect x="207.81" y="660.67" width="4.4" height="4.9"/><rect x="190.17" y="665.67" width="4.4" height="4.9"/><rect x="196.05" y="667.3" width="4.4" height="4.9"/><rect x="201.93" y="665.3" width="4.4" height="4.9"/><rect x="204.87" y="670.67" width="4.4" height="4.9"/><rect x="187.23" y="676.3" width="4.4" height="4.9"/><rect x="193.11" y="676.3" width="4.4" height="4.9"/><rect x="198.99" y="676.3" width="4.4" height="4.9"/></g>
<path d="M165.3 579.75H231.1" stroke="#000" stroke-width="1.8" fill="none"/>
</g>
<g id="panel-F">
<path d="M322 521.6V680.6H516.2" fill="none" stroke="#1a1a1a" stroke-width="1.1"/>
<path d="M322 521.9h-3.7M322 558.88h-2.2M322 549.56h-2.2M322 542.95h-2.2M322 537.82h-2.2M322 533.64h-2.2M322 530.09h-2.2M322 527.03h-2.2M322 524.32h-2.2M322 574.8h-3.7M322 611.78h-2.2M322 602.46h-2.2M322 595.85h-2.2M322 590.72h-2.2M322 586.54h-2.2M322 582.99h-2.2M322 579.93h-2.2M322 577.22h-2.2M322 627.7h-3.7M322 664.68h-2.2M322 655.36h-2.2M322 648.75h-2.2M322 643.62h-2.2M322 639.44h-2.2M322 635.89h-2.2M322 632.83h-2.2M322 630.12h-2.2M322 680.6h-3.7" stroke="#000" stroke-width="1" fill="none"/>
<path d="M370.75 680.6v4M467.9 680.6v4" stroke="#1a1a1a" stroke-width="1.1" fill="none"/>
<text x="301.87" y="525.6" font-size="10.0" textLength="14.93" lengthAdjust="spacingAndGlyphs">100</text>
<text x="306.84" y="578.5" font-size="10.0" textLength="9.96" lengthAdjust="spacingAndGlyphs">10</text>
<text x="311.82" y="631.4" font-size="10.0" textLength="4.98" lengthAdjust="spacingAndGlyphs">1</text>
<text x="304.36" y="684.3" font-size="10.0" textLength="12.44" lengthAdjust="spacingAndGlyphs">0.1</text>
<text x="350.85" y="694.5" font-size="10.0" textLength="39.31" lengthAdjust="spacingAndGlyphs">Untreated</text>
<text x="433.74" y="694.5" font-size="10.0" textLength="66.13" lengthAdjust="spacingAndGlyphs">ABT-737 treated</text>
<text transform="translate(287.9 665.3) rotate(-90)" font-size="8.8" stroke-width="0.5" textLength="127.1" lengthAdjust="spacingAndGlyphs">fold change in expression</text>
<text x="278.9" y="513.5" font-size="14" font-weight="bold" stroke="#000" stroke-width="0.3">F</text>
<text x="402.5" y="526.25" font-size="12.2" font-style="italic" textLength="37.59" lengthAdjust="spacingAndGlyphs">BCL-XL</text>
<text x="330" y="532.5" font-size="10.0" textLength="33.59" lengthAdjust="spacingAndGlyphs"><tspan font-style="italic">P</tspan> = 0.26</text>
<g fill="#000"><ellipse cx="373.69" cy="574" rx="2.25" ry="2.6"/><ellipse cx="367.81" cy="580.62" rx="2.25" ry="2.6"/><ellipse cx="364.87" cy="584.75" rx="2.25" ry="2.6"/><ellipse cx="376.63" cy="584.38" rx="2.25" ry="2.6"/><ellipse cx="370.75" cy="588.75" rx="2.25" ry="2.6"/><ellipse cx="373.69" cy="593.12" rx="2.25" ry="2.6"/><ellipse cx="367.81" cy="597.75" rx="2.25" ry="2.6"/><ellipse cx="353.11" cy="605.62" rx="2.25" ry="2.6"/><ellipse cx="358.99" cy="604.75" rx="2.25" ry="2.6"/><ellipse cx="364.87" cy="604.75" rx="2.25" ry="2.6"/><ellipse cx="370.75" cy="604.75" rx="2.25" ry="2.6"/><ellipse cx="376.63" cy="604.75" rx="2.25" ry="2.6"/><ellipse cx="382.51" cy="604" rx="2.25" ry="2.6"/><ellipse cx="388.39" cy="607.5" rx="2.25" ry="2.6"/><ellipse cx="358.99" cy="608.75" rx="2.25" ry="2.6"/><ellipse cx="364.87" cy="610.62" rx="2.25" ry="2.6"/><ellipse cx="370.75" cy="612.75" rx="2.25" ry="2.6"/><ellipse cx="376.63" cy="612.5" rx="2.25" ry="2.6"/><ellipse cx="382.51" cy="610.62" rx="2.25" ry="2.6"/><ellipse cx="356.05" cy="616.88" rx="2.25" ry="2.6"/><ellipse cx="385.45" cy="618.5" rx="2.25" ry="2.6"/><ellipse cx="361.93" cy="621.88" rx="2.25" ry="2.6"/><ellipse cx="367.81" cy="621.88" rx="2.25" ry="2.6"/><ellipse cx="373.69" cy="623.5" rx="2.25" ry="2.6"/><ellipse cx="379.57" cy="621.5" rx="2.25" ry="2.6"/><ellipse cx="344.29" cy="625.62" rx="2.25" ry="2.6"/><ellipse cx="350.17" cy="628.12" rx="2.25" ry="2.6"/><ellipse cx="356.05" cy="630" rx="2.25" ry="2.6"/><ellipse cx="361.93" cy="630.62" rx="2.25" ry="2.6"/><ellipse cx="367.81" cy="631.88" rx="2.25" ry="2.6"/><ellipse cx="373.69" cy="631.25" rx="2.25" ry="2.6"/><ellipse cx="379.57" cy="630.62" rx="2.25" ry="2.6"/><ellipse cx="385.45" cy="629.75" rx="2.25" ry="2.6"/><ellipse cx="388.39" cy="632.75" rx="2.25" ry="2.6"/><ellipse cx="391.33" cy="627.25" rx="2.25" ry="2.6"/><ellipse cx="397.21" cy="625.62" rx="2.25" ry="2.6"/><ellipse cx="353.11" cy="635.62" rx="2.25" ry="2.6"/><ellipse cx="358.99" cy="637.5" rx="2.25" ry="2.6"/><ellipse cx="364.87" cy="638.12" rx="2.25" ry="2.6"/><ellipse cx="370.75" cy="639.38" rx="2.25" ry="2.6"/><ellipse cx="376.63" cy="637.5" rx="2.25" ry="2.6"/><ellipse cx="382.51" cy="636" rx="2.25" ry="2.6"/><ellipse cx="350.17" cy="640" rx="2.25" ry="2.6"/><ellipse cx="391.33" cy="639.75" rx="2.25" ry="2.6"/><ellipse cx="356.05" cy="643.12" rx="2.25" ry="2.6"/><ellipse cx="385.45" cy="642.25" rx="2.25" ry="2.6"/><ellipse cx="361.93" cy="646" rx="2.25" ry="2.6"/><ellipse cx="367.81" cy="646.88" rx="2.25" ry="2.6"/><ellipse cx="373.69" cy="646.25" rx="2.25" ry="2.6"/><ellipse cx="379.57" cy="645" rx="2.25" ry="2.6"/><ellipse cx="382.51" cy="647.75" rx="2.25" ry="2.6"/><ellipse cx="358.99" cy="649" rx="2.25" ry="2.6"/><ellipse cx="364.87" cy="653.12" rx="2.25" ry="2.6"/><ellipse cx="370.75" cy="654" rx="2.25" ry="2.6"/><ellipse cx="376.63" cy="653.12" rx="2.25" ry="2.6"/><ellipse cx="373.69" cy="659.75" rx="2.25" ry="2.6"/><ellipse cx="367.81" cy="664" rx="2.25" ry="2.6"/></g>
<path d="M337.8 614.6H403.6" stroke="#000" stroke-width="1.8" fill="none"/>
<g fill="#000"><rect x="465.7" y="536.05" width="4.4" height="4.9"/><rect x="465.7" y="562.55" width="4.4" height="4.9"/><rect x="459.82" y="569.43" width="4.4" height="4.9"/><rect x="465.7" y="575.67" width="4.4" height="4.9"/><rect x="471.58" y="576.05" width="4.4" height="4.9"/><rect x="462.76" y="592.55" width="4.4" height="4.9"/><rect x="468.64" y="593.55" width="4.4" height="4.9"/><rect x="453.94" y="599.43" width="4.4" height="4.9"/><rect x="477.46" y="600.05" width="4.4" height="4.9"/><rect x="459.82" y="602.3" width="4.4" height="4.9"/><rect x="465.7" y="604.43" width="4.4" height="4.9"/><rect x="471.58" y="603.8" width="4.4" height="4.9"/><rect x="471.58" y="606.55" width="4.4" height="4.9"/><rect x="459.82" y="609.43" width="4.4" height="4.9"/><rect x="465.7" y="611.93" width="4.4" height="4.9"/><rect x="465.7" y="621.05" width="4.4" height="4.9"/><rect x="442.18" y="625.3" width="4.4" height="4.9"/><rect x="448.06" y="629.43" width="4.4" height="4.9"/><rect x="453.94" y="630.67" width="4.4" height="4.9"/><rect x="459.82" y="632.8" width="4.4" height="4.9"/><rect x="462.76" y="633.55" width="4.4" height="4.9"/><rect x="465.7" y="632.8" width="4.4" height="4.9"/><rect x="468.64" y="632.8" width="4.4" height="4.9"/><rect x="471.58" y="631.55" width="4.4" height="4.9"/><rect x="477.46" y="629.8" width="4.4" height="4.9"/><rect x="483.34" y="627.8" width="4.4" height="4.9"/><rect x="489.22" y="625.3" width="4.4" height="4.9"/><rect x="439.24" y="634.8" width="4.4" height="4.9"/><rect x="445.12" y="637.3" width="4.4" height="4.9"/><rect x="451" y="637.8" width="4.4" height="4.9"/><rect x="456.88" y="638.8" width="4.4" height="4.9"/><rect x="462.76" y="639.43" width="4.4" height="4.9"/><rect x="468.64" y="639.05" width="4.4" height="4.9"/><rect x="474.52" y="638.17" width="4.4" height="4.9"/><rect x="480.4" y="637.3" width="4.4" height="4.9"/><rect x="486.28" y="636.93" width="4.4" height="4.9"/><rect x="492.16" y="634.05" width="4.4" height="4.9"/><rect x="439.24" y="641.3" width="4.4" height="4.9"/><rect x="445.12" y="643.17" width="4.4" height="4.9"/><rect x="451" y="644.8" width="4.4" height="4.9"/><rect x="456.88" y="645.3" width="4.4" height="4.9"/><rect x="462.76" y="646.93" width="4.4" height="4.9"/><rect x="468.64" y="646.93" width="4.4" height="4.9"/><rect x="474.52" y="646.93" width="4.4" height="4.9"/><rect x="474.52" y="650.67" width="4.4" height="4.9"/><rect x="480.4" y="644.8" width="4.4" height="4.9"/><rect x="486.28" y="644.05" width="4.4" height="4.9"/><rect x="492.16" y="641.93" width="4.4" height="4.9"/><rect x="456.88" y="654.8" width="4.4" height="4.9"/><rect x="462.76" y="656.3" width="4.4" height="4.9"/><rect x="468.64" y="654.43" width="4.4" height="4.9"/><rect x="459.82" y="662.55" width="4.4" height="4.9"/><rect x="471.58" y="661.3" width="4.4" height="4.9"/><rect x="465.7" y="666.05" width="4.4" height="4.9"/><rect x="459.82" y="676.3" width="4.4" height="4.9"/><rect x="471.58" y="676.3" width="4.4" height="4.9"/><rect x="465.7" y="678.55" width="4.4" height="4.9"/></g>
<path d="M434.7 606.25H501" stroke="#000" stroke-width="1.8" fill="none"/>
</g>
</svg></body></html>
